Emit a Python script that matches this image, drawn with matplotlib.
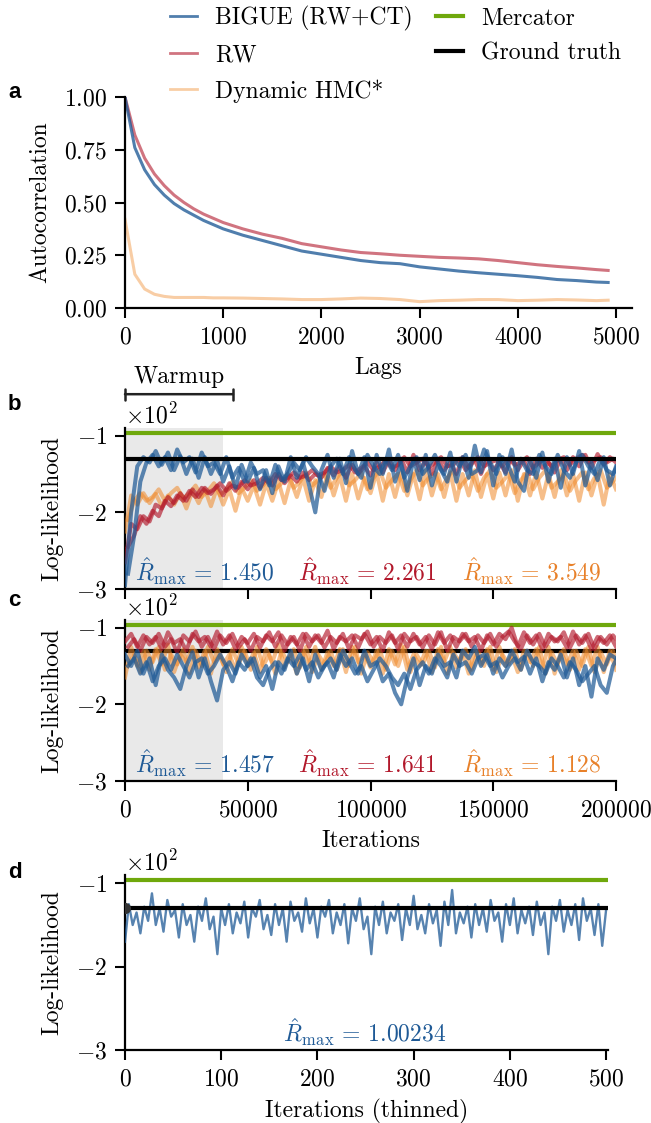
import numpy as np
import matplotlib
matplotlib.use("Agg")
import matplotlib.pyplot as plt
from matplotlib.lines import Line2D

plt.rcParams.update({
    "font.family": "serif",
    "font.serif": ["cmr10"],
    "mathtext.fontset": "cm",
    "axes.formatter.use_mathtext": True,
    "axes.unicode_minus": True,
    "font.size": 17,
})

# ---------------- data ----------------
lags = [0, 100, 200, 300, 400, 500, 600, 700, 800, 900, 1000, 1200, 1400, 1600, 1800,
        2000, 2200, 2400, 2600, 2800, 3000, 3200, 3400, 3600, 3800, 4000, 4200, 4400,
        4600, 4800, 4920]
acf_bigue = [1.00, 0.76, 0.655, 0.585, 0.535, 0.495, 0.465, 0.44, 0.415, 0.395, 0.375,
             0.345, 0.32, 0.295, 0.27, 0.255, 0.24, 0.225, 0.215, 0.21, 0.195, 0.185,
             0.175, 0.167, 0.16, 0.153, 0.145, 0.135, 0.13, 0.123, 0.121]
acf_rw = [1.00, 0.82, 0.71, 0.635, 0.58, 0.535, 0.50, 0.47, 0.445, 0.425, 0.405, 0.375,
          0.35, 0.33, 0.305, 0.29, 0.275, 0.263, 0.257, 0.25, 0.245, 0.24, 0.237, 0.233,
          0.225, 0.215, 0.205, 0.197, 0.19, 0.182, 0.178]
acf_hmc = [0.42, 0.16, 0.09, 0.065, 0.055, 0.05, 0.05, 0.05, 0.05, 0.048, 0.048, 0.047,
           0.045, 0.043, 0.04, 0.04, 0.043, 0.047, 0.045, 0.04, 0.03, 0.035, 0.037, 0.04,
           0.04, 0.035, 0.037, 0.04, 0.038, 0.035, 0.037]

step_bc = 2500        # iterations between stored samples (panels b, c)
chain2_offset = 1250  # second chain stored on a shifted grid

# panel b, chain 1 and chain 2 of each sampler
b_bigue = [-295, -200, -140, -128, -135, -120, -138, -122, -145, -127, -150, -130, -155,
           -128, -150, -132, -160, -140, -168, -138, -160, -142, -170, -145, -175, -140,
           -160, -128, -155, -135, -165, -200, -145, -125, -155, -130, -162, -120, -150,
           -128, -168, -125, -150, -118, -160, -135, -172, -130, -158, -125, -165, -138,
           -150, -122, -160, -128, -155, -113, -148, -120, -165, -125, -150, -118, -160,
           -172, -130, -155, -122, -160, -130, -168, -128, -150, -120, -165, -135, -158,
           -128, -165, -140]
b_bigue2 = [-280, -230, -160, -135, -125, -140, -128, -145, -118, -135, -128, -148, -122,
            -140, -135, -150, -128, -155, -142, -160, -135, -150, -145, -165, -138, -158,
            -150, -135, -145, -128, -140, -150, -172, -140, -130, -150, -128, -145, -155,
            -125, -140, -150, -130, -145, -125, -155, -140, -128, -150, -140, -125, -145,
            -160, -130, -140, -125, -150, -145, -118, -135, -150, -128, -140, -160, -130,
            -145, -150, -125, -140, -150, -125, -145, -155, -135, -125, -140, -150, -130,
            -145, -150, -135]
b_rw = [-265, -215, -222, -205, -212, -190, -195, -180, -188, -175, -185, -170, -180, -168,
        -176, -165, -178, -162, -172, -160, -170, -158, -168, -155, -165, -150, -162, -152,
        -160, -148, -158, -150, -155, -142, -152, -140, -155, -138, -150, -140, -152, -135,
        -148, -132, -145, -130, -148, -125, -145, -132, -150, -130, -145, -135, -150, -128,
        -142, -132, -150, -130, -145, -135, -148, -128, -145, -132, -150, -130, -142, -135,
        -148, -130, -145, -128, -140, -125, -142, -124, -138, -128, -135]
b_rw2 = [-245, -230, -205, -215, -198, -205, -185, -192, -178, -185, -172, -180, -168, -175,
         -170, -162, -172, -165, -168, -158, -165, -162, -155, -162, -150, -158, -155, -148,
         -155, -152, -145, -152, -148, -140, -148, -145, -138, -148, -142, -135, -145, -140,
         -132, -142, -138, -128, -140, -135, -130, -142, -135, -128, -140, -138, -130, -145,
         -135, -128, -140, -135, -132, -140, -130, -138, -135, -128, -142, -135, -130, -140,
         -132, -128, -138, -130, -125, -135, -132, -128, -135, -130, -132]
b_hmc = [-225, -178, -190, -175, -188, -176, -192, -178, -190, -175, -195, -172, -188, -170,
         -192, -168, -190, -170, -198, -168, -185, -165, -190, -162, -185, -160, -188, -158,
         -180, -155, -185, -158, -180, -150, -178, -152, -185, -150, -182, -155, -175, -148,
         -185, -150, -180, -148, -178, -150, -183, -145, -178, -150, -180, -148, -185, -150,
         -178, -145, -180, -150, -182, -148, -178, -145, -185, -150, -178, -148, -182, -150,
         -180, -145, -178, -150, -185, -148, -178, -150, -190, -150, -170]
b_hmc2 = [-210, -185, -175, -185, -180, -170, -185, -175, -168, -182, -175, -165, -180, -172,
          -162, -178, -170, -160, -175, -168, -158, -172, -165, -155, -170, -162, -150, -168,
          -160, -148, -165, -158, -150, -168, -155, -145, -165, -158, -148, -170, -155, -145,
          -168, -158, -150, -172, -158, -145, -165, -155, -148, -170, -155, -145, -168, -158,
          -150, -172, -155, -145, -168, -160, -150, -175, -158, -148, -170, -155, -145, -168,
          -160, -150, -172, -158, -148, -170, -155, -145, -168, -160, -150]

# panel c, chain 1 and chain 2 of each sampler
c_bigue = [-135, -150, -130, -160, -140, -175, -135, -155, -165, -180, -150, -132, -165,
           -140, -170, -195, -155, -145, -160, -135, -150, -140, -165, -150, -180, -145,
           -155, -130, -160, -140, -170, -135, -155, -145, -165, -135, -150, -140, -160,
           -130, -150, -145, -170, -160, -185, -200, -165, -140, -175, -150, -160, -135,
           -150, -145, -165, -130, -140, -125, -150, -135, -160, -140, -150, -130, -145,
           -138, -160, -140, -170, -145, -155, -135, -165, -140, -175, -150, -190, -140,
           -155, -135, -140]
c_bigue2 = [-150, -140, -160, -145, -170, -150, -140, -155, -135, -150, -165, -145, -140,
            -160, -150, -135, -150, -170, -145, -155, -140, -165, -175, -155, -145, -160,
            -140, -150, -135, -155, -145, -165, -150, -140, -155, -130, -145, -160, -150,
            -170, -155, -140, -150, -165, -175, -160, -180, -155, -145, -160, -140, -150,
            -165, -135, -150, -145, -160, -140, -135, -150, -145, -165, -150, -140, -155,
            -130, -145, -150, -160, -140, -150, -165, -145, -155, -170, -160, -150, -175,
            -185, -150, -135]
c_rw = [-118, -108, -125, -110, -122, -112, -128, -106, -120, -115, -130, -108, -118, -112,
        -125, -105, -122, -110, -128, -112, -120, -108, -126, -110, -118, -106, -130, -112,
        -122, -108, -125, -110, -120, -104, -128, -112, -118, -110, -126, -108, -122, -112,
        -130, -106, -120, -110, -125, -108, -122, -112, -128, -106, -120, -110, -125, -108,
        -118, -112, -130, -110, -122, -108, -115, -100, -125, -106, -120, -110, -128, -108,
        -118, -112, -126, -105, -122, -110, -128, -112, -120, -110, -125]
c_rw2 = [-125, -115, -130, -112, -120, -108, -125, -115, -132, -110, -118, -105, -125, -112,
         -128, -110, -120, -108, -126, -115, -130, -112, -118, -106, -125, -110, -122, -112,
         -130, -108, -118, -110, -126, -112, -120, -108, -128, -110, -115, -105, -125, -112,
         -120, -110, -128, -108, -118, -112, -126, -110, -122, -106, -130, -112, -118, -108,
         -125, -110, -120, -108, -125, -112, -105, -118, -128, -110, -122, -108, -125, -112,
         -118, -106, -126, -110, -120, -108, -128, -112, -122, -110, -120]
c_hmc = [-165, -125, -150, -130, -155, -128, -148, -122, -158, -135, -145, -125, -152, -130,
         -160, -128, -148, -135, -155, -125, -150, -132, -158, -128, -145, -122, -152, -135,
         -160, -130, -148, -125, -155, -132, -150, -128, -158, -125, -145, -135, -152, -130,
         -160, -128, -148, -122, -155, -135, -150, -130, -158, -128, -145, -125, -152, -132,
         -160, -130, -148, -128, -155, -125, -150, -135, -158, -130, -145, -128, -152, -125,
         -160, -132, -148, -130, -155, -128, -150, -125, -158, -130, -155]
c_hmc2 = [-150, -135, -158, -130, -145, -125, -155, -135, -148, -128, -160, -130, -150, -125,
          -145, -135, -158, -128, -148, -130, -155, -125, -150, -135, -160, -130, -145, -128,
          -152, -125, -158, -135, -148, -130, -155, -128, -150, -125, -160, -132, -145, -128,
          -155, -130, -150, -125, -158, -135, -148, -130, -152, -125, -160, -132, -145, -128,
          -155, -130, -150, -125, -158, -135, -148, -128, -155, -130, -150, -125, -160, -132,
          -148, -128, -155, -130, -150, -125, -158, -132, -148, -130, -158]

step_d = 4  # thinned iterations between stored samples (panel d)
d_bigue = [-170, -125, -150, -135, -160, -128, -145, -112, -150, -130, -158, -120, -140,
           -132, -165, -125, -150, -138, -170, -128, -145, -118, -155, -140, -185, -130,
           -150, -125, -160, -135, -148, -122, -165, -130, -140, -120, -155, -138, -162,
           -125, -150, -130, -170, -122, -145, -135, -158, -118, -148, -130, -165, -128,
           -140, -120, -160, -135, -150, -125, -172, -130, -145, -118, -155, -140, -185,
           -128, -150, -122, -160, -135, -145, -125, -168, -130, -150, -115, -155, -138,
           -160, -125, -148, -132, -175, -122, -150, -108, -160, -135, -148, -128, -165,
           -125, -150, -130, -158, -120, -145, -135, -170, -125, -150, -118, -160, -132,
           -148, -128, -162, -122, -150, -135, -185, -128, -145, -120, -158, -132, -150,
           -125, -168, -118, -145, -130, -162, -125, -175, -132]

mercator_ll = -96
truth_ll = -130
warmup_end = 40000

rhat_b = ["1.450", "2.261", "3.549"]
rhat_c = ["1.457", "1.641", "1.128"]
rhat_d = "1.00234"

# ---------------- styling ----------------
C_BLUE, A_BLUE = "#1f5a96", 0.78
C_RED, A_RED = "#b2182b", 0.6
C_ORANGE, A_ORANGE = "#f08a2a", 0.42
T_BLUE, T_RED, T_ORANGE = "#1f5a96", "#b2182b", "#e8812a"
C_GREEN = "#6fa80c"

W, H = 651, 1123
fig = plt.figure(figsize=(W / 100, H / 100), dpi=100)


def frac(x0, ytop, x1, ybot):
    return [x0 / W, 1 - ybot / H, (x1 - x0) / W, (ybot - ytop) / H]


ax_a = fig.add_axes(frac(125, 97, 632, 308))
ax_b = fig.add_axes(frac(125, 428, 616, 589))
ax_c = fig.add_axes(frac(125, 620, 616, 781))
ax_d = fig.add_axes(frac(125, 875, 608, 1050))

for ax in (ax_a, ax_b, ax_c, ax_d):
    for s in ("top", "right"):
        ax.spines[s].set_visible(False)
    for s in ("left", "bottom"):
        ax.spines[s].set_linewidth(1.6)
    ax.tick_params(labelsize=17, length=7, width=1.5, direction="out", pad=6)


def rhat_text(val):
    return r"$\hat{R}_{\max}\,=\,%s$" % val


# panel a
ax_a.plot(lags, acf_hmc, color=C_ORANGE, alpha=A_ORANGE, lw=2.2)
ax_a.plot(lags, acf_rw, color=C_RED, alpha=A_RED, lw=2.2)
ax_a.plot(lags, acf_bigue, color=C_BLUE, alpha=A_BLUE, lw=2.2)
ax_a.set_xlim(0, 5163)
ax_a.set_ylim(0, 1.0)
ax_a.set_xticks([0, 1000, 2000, 3000, 4000, 5000])
ax_a.set_yticks([0, 0.25, 0.5, 0.75, 1.0])
ax_a.set_xlabel("Lags", labelpad=6)
ax_a.set_ylabel("Autocorrelation", labelpad=9)


def trace_panel(ax, chains, rhats, truth_on_top):
    ax.axvspan(0, warmup_end, color="#e9e9e9", zorder=0, lw=0)
    ax.plot([0, 200000], [mercator_ll, mercator_ll], color=C_GREEN, lw=3, zorder=1)
    ax.plot([0, 200000], [truth_ll, truth_ll], color="black", lw=3,
            zorder=5 if truth_on_top else 1)
    for (v1, v2), c, a in zip(chains, (C_ORANGE, C_RED, C_BLUE), (0.55, 0.65, 0.72)):
        x1 = np.arange(len(v1)) * step_bc
        x2 = np.arange(len(v2)) * step_bc + chain2_offset
        ax.plot(x1, v1, color=c, alpha=a, lw=2.9, zorder=3)
        ax.plot(x2, v2, color=c, alpha=a, lw=2.9, zorder=3)
    ax.set_xlim(0, 200000)
    ax.set_ylim(-300, -90)
    ax.set_yticks([-300, -200, -100])
    ax.set_xticks([0, 50000, 100000, 150000, 200000])
    ax.ticklabel_format(axis="y", style="sci", scilimits=(2, 2))
    ax.ticklabel_format(axis="x", style="plain", useOffset=False)
    ax.set_ylabel("Log-likelihood", labelpad=9)
    for xpos, txt, col in zip((0.02, 0.352, 0.686), rhats, (T_BLUE, T_RED, T_ORANGE)):
        ax.text(xpos, 0.11, rhat_text(txt), color=col, fontsize=17,
                transform=ax.transAxes, va="center", ha="left", zorder=6)


trace_panel(ax_b, ((b_hmc, b_hmc2), (b_rw, b_rw2), (b_bigue, b_bigue2)), rhat_b, True)
trace_panel(ax_c, ((c_hmc, c_hmc2), (c_rw, c_rw2), (c_bigue, c_bigue2)), rhat_c, False)
ax_b.tick_params(axis="x", labelbottom=False)
ax_c.set_xlabel("Iterations", labelpad=6)

# warmup bracket
ax_b.annotate("", xy=(0, 1.21), xytext=(44000, 1.21),
              xycoords=("data", "axes fraction"), textcoords=("data", "axes fraction"),
              arrowprops=dict(arrowstyle="|-|", lw=1.8, color="#222222",
                              mutation_scale=4, shrinkA=0, shrinkB=0),
              annotation_clip=False)
ax_b.text(22000, 1.32, "Warmup", transform=ax_b.get_xaxis_transform(),
          ha="center", va="center", fontsize=17)

# panel d
xd = np.arange(len(d_bigue)) * step_d
ax_d.plot([0, 500], [mercator_ll, mercator_ll], color=C_GREEN, lw=3, zorder=1)
ax_d.plot(xd, d_bigue, color=C_BLUE, alpha=0.75, lw=1.7, zorder=3)
ax_d.plot([0, 500], [truth_ll, truth_ll], color="black", lw=3, zorder=4)
ax_d.plot([0], [truth_ll], "o", color="#333333", ms=7, zorder=5)
ax_d.set_xlim(0, 502)
ax_d.set_ylim(-300, -90)
ax_d.set_yticks([-300, -200, -100])
ax_d.set_xticks([0, 100, 200, 300, 400, 500])
ax_d.ticklabel_format(axis="y", style="sci", scilimits=(2, 2))
ax_d.set_ylabel("Log-likelihood", labelpad=9)
ax_d.set_xlabel("Iterations (thinned)", labelpad=6)
ax_d.text(0.327, 0.10, rhat_text(rhat_d), color=T_BLUE, fontsize=17,
          transform=ax_d.transAxes, va="center", ha="left")

# legend
handles = [
    Line2D([], [], color=C_BLUE, alpha=A_BLUE, lw=2),
    Line2D([], [], color=C_RED, alpha=A_RED, lw=2),
    Line2D([], [], color=C_ORANGE, alpha=A_ORANGE, lw=2),
    Line2D([], [], color=C_GREEN, lw=3),
    Line2D([], [], color="black", lw=3),
]
labels = ["BIGUE (RW+CT)", "RW", "Dynamic HMC*", "Mercator", "Ground truth"]
fig.legend(handles, labels, loc="upper left", bbox_to_anchor=(170 / W, 1 - 6 / H),
           ncol=2, frameon=False, fontsize=17, handlelength=1.15, handletextpad=0.75,
           columnspacing=1.0, labelspacing=0.55, borderpad=0, borderaxespad=0)

# panel letters
for letter, y in (("a", 92), ("b", 405), ("c", 600), ("d", 873)):
    fig.text(8 / W, 1 - y / H, letter, fontsize=16, fontweight="bold",
             family="Liberation Sans", va="center", ha="left")

fig.savefig("out.png", dpi=100)
